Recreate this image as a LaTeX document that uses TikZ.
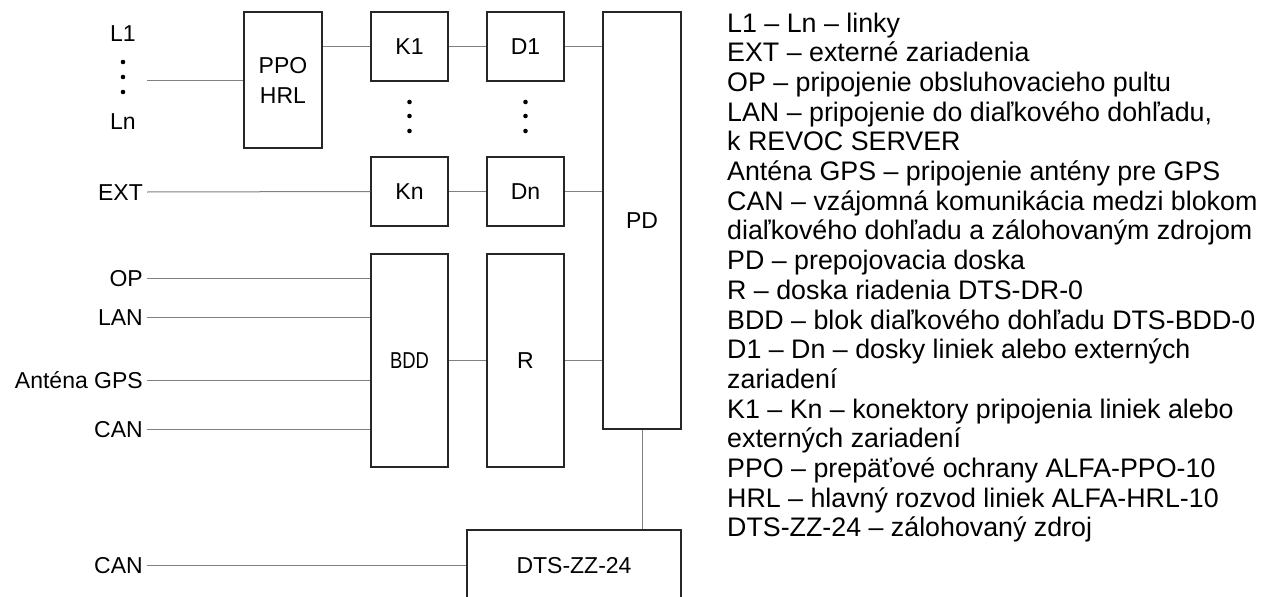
\documentclass[tikz,border=0pt]{standalone}
\usepackage{fontspec}
\setmainfont{Liberation Sans}
\begin{document}
\begin{tikzpicture}[x=1pt,y=-1pt,
  blk/.style={draw=black!85,line width=1.1pt,rectangle,inner sep=0pt,align=center,font=\fontsize{23}{30}\selectfont},
  lbl/.style={inner xsep=4pt,inner ysep=0pt,anchor=east,text height=16.5pt,text depth=0pt,font=\fontsize{23}{30}\selectfont},
  lbc/.style={inner sep=0pt,text height=16.5pt,text depth=0pt,font=\fontsize{23}{30}\selectfont},
  wire/.style={draw=black!50,line width=1pt},
  dotm/.style={fill=black,circle,inner sep=0pt,minimum size=4.6pt},
  leg/.style={inner sep=0pt,anchor=base west,font=\fontsize{26.8}{30}\selectfont}]
\useasboundingbox (0,0) rectangle (1272,597);

% boxes
\node[blk,minimum width=78pt,minimum height=136pt] (ppo) at (283,80) {PPO\\HRL};
\node[blk,minimum width=77pt,minimum height=69pt] (k1) at (409.5,46.5) {K1};
\node[blk,minimum width=77pt,minimum height=69pt] (d1) at (525.5,46.5) {D1};
\node[blk,minimum width=77pt,minimum height=69pt] (kn) at (409.5,191.5) {Kn};
\node[blk,minimum width=77pt,minimum height=69pt] (dn) at (525.5,191.5) {Dn};
\node[blk,minimum width=78pt,minimum height=417pt] (pd) at (642,220.5) {PD};
\node[blk,minimum width=77pt,minimum height=213pt] (bdd) at (409.5,360.5) {\scalebox{0.8}[1]{BDD}};
\node[blk,minimum width=77pt,minimum height=213pt] (r) at (525.5,360.5) {R};
\node[blk,minimum width=214pt,minimum height=72pt] (dts) at (574,566) {DTS-ZZ-24};

% left labels
\node[lbc] (l1) at (123,33) {L1};
\node[lbc] (ln) at (123,121) {Ln};
\node[dotm] (ld1) at (123,62) {};
\node[dotm] (ld2) at (123,77) {};
\node[dotm] (ld3) at (123,92) {};
\coordinate (lin) at (147,80);
\node[lbl] (ext) at (147,192) {EXT};
\node[lbl] (op) at (147,278) {OP};
\node[lbl] (lan) at (147,317) {LAN};
\node[lbl] (gps) at (147,380) {Anténa GPS};
\node[lbl] (can) at (147,429) {CAN};
\node[lbl] (can2) at (147,565) {CAN};

% dots between K1/Kn and D1/Dn
\foreach \y [count=\i] in {102,116,131}{
  \node[dotm] (kd\i) at (409.5,\y) {};
  \node[dotm] (dd\i) at (525.5,\y) {};
}

% connectors
\draw[wire] (lin) -- (lin -| ppo.west);
\draw[wire] (ppo.east |- k1.west) -- (k1.west);
\draw[wire] (k1.east) -- (d1.west);
\draw[wire] (d1.east) -- (pd.west |- d1.east);
\draw[wire] (ext.east) -- (kn.west);
\draw[wire] (kn.east) -- (dn.west);
\draw[wire] (dn.east) -- (pd.west |- dn.east);
\draw[wire] (op.east) -- (bdd.west |- op.east);
\draw[wire] (lan.east) -- (bdd.west |- lan.east);
\draw[wire] (gps.east) -- (bdd.west |- gps.east);
\draw[wire] (can.east) -- (bdd.west |- can.east);
\draw[wire] (bdd.east) -- (r.west);
\draw[wire] (r.east) -- (pd.west |- r.east);
\draw[wire] (pd.south) -- (pd.south |- dts.north);
\draw[wire] (can2.east) -- (dts.west |- can2.east);

% legend
\foreach \t [count=\i] in {
  L1 – Ln – linky,
  EXT – externé zariadenia,
  OP – pripojenie obsluhovacieho pultu,
  {LAN – pripojenie do diaľkového dohľadu,},
  k REVOC SERVER,
  Anténa GPS – pripojenie antény pre GPS,
  CAN – vzájomná komunikácia medzi blokom,
  diaľkového dohľadu a zálohovaným zdrojom,
  PD – prepojovacia doska,
  R – doska riadenia DTS-DR-0,
  BDD – blok diaľkového dohľadu DTS-BDD-0,
  D1 – Dn – dosky liniek alebo externých,
  zariadení,
  K1 – Kn – konektory pripojenia liniek alebo,
  externých zariadení,
  PPO – prepäťové ochrany ALFA-PPO-10,
  HRL – hlavný rozvod liniek ALFA-HRL-10,
  DTS-ZZ-24 – zálohovaný zdroj}{
  \node[leg] (leg\i) at (727,{32+(\i-1)*29.7}) {\t};
}
\end{tikzpicture}
\end{document}
